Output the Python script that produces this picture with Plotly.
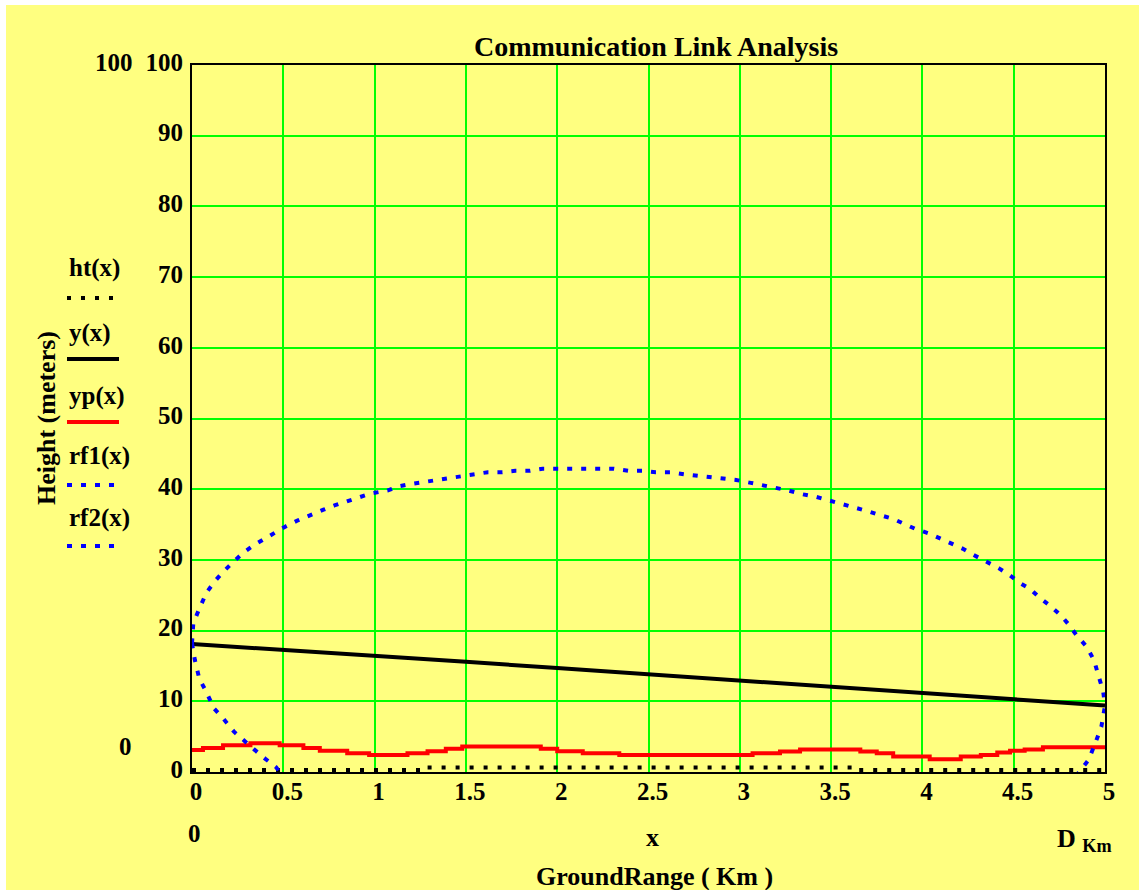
import plotly.graph_objects as go

# ---------------- data ----------------
x_ticks = [0, 0.5, 1, 1.5, 2, 2.5, 3, 3.5, 4, 4.5, 5]
y_ticks = [0, 10, 20, 30, 40, 50, 60, 70, 80, 90, 100]

ht_x = [0, 1.28, 3.64, 5.0]
ht_y = [0.28, 0.62, 0.28, 0.28]

y_x = [0, 0.5, 1, 1.5, 2, 2.5, 3, 3.5, 4, 4.5, 5]
y_y = [18.1, 17.3, 16.4, 15.6, 14.7, 13.8, 12.9, 12.0, 11.1, 10.2, 9.4]

yp_x = [0, 0.06, 0.17, 0.32, 0.48, 0.61, 0.70, 0.85, 0.97, 1.18, 1.29, 1.39, 1.48,
        1.70, 1.91, 2.0, 2.14, 2.34, 3.07, 3.22, 3.33, 3.66, 3.75, 3.84, 4.04, 4.21,
        4.32, 4.41, 4.48, 4.56, 4.66, 5.0]
yp_y = [3.1, 3.4, 3.8, 4.05, 3.8, 3.4, 3.0, 2.65, 2.4, 2.65, 2.95, 3.3, 3.6,
        3.6, 3.3, 2.95, 2.65, 2.4, 2.65, 2.9, 3.2, 2.9, 2.65, 2.2, 1.8, 2.2,
        2.4, 2.75, 3.0, 3.2, 3.5, 3.5]

rf1_x = [0, 0.007, 0.04, 0.08, 0.126, 0.17, 0.23, 0.28, 0.34, 0.40, 0.46, 0.51, 0.58,
         0.65, 0.72, 0.78, 0.84, 0.91, 0.98, 1.07, 1.13, 1.19, 1.27, 1.33, 1.40, 1.48,
         1.55, 1.62, 1.70, 1.77, 1.85, 1.92, 2.0, 2.08, 2.16, 2.23, 2.31, 2.39, 2.47,
         2.54, 2.62, 2.70, 2.77, 2.84, 2.91, 2.98, 3.06, 3.12, 3.19, 3.27, 3.34, 3.42,
         3.49, 3.56, 3.63, 3.70, 3.76, 3.84, 3.90, 3.96, 4.04, 4.10, 4.16, 4.22, 4.28,
         4.36, 4.42, 4.48, 4.53, 4.59, 4.64, 4.70, 4.76, 4.80, 4.84, 4.90, 4.94, 4.96,
         4.99, 5.0]
rf1_y = [18.2, 21.0, 23.1, 25.4, 27.0, 28.3, 29.8, 31.0, 32.1, 33.0, 34.0, 34.7, 35.6,
         36.4, 37.1, 37.7, 38.2, 38.8, 39.4, 39.8, 40.4, 40.7, 41.0, 41.2, 41.5, 41.8,
         42.1, 42.4, 42.4, 42.6, 42.6, 42.9, 42.9, 42.9, 42.9, 42.9, 42.9, 42.6, 42.6,
         42.4, 42.4, 42.1, 41.9, 41.7, 41.5, 41.3, 40.9, 40.6, 40.2, 39.8, 39.3, 38.9,
         38.4, 37.9, 37.5, 36.9, 36.4, 35.8, 35.1, 34.4, 33.7, 33.0, 32.3, 31.6, 30.7,
         29.7, 28.8, 27.8, 26.8, 25.9, 24.7, 23.5, 22.1, 20.9, 19.5, 17.7, 15.8, 14.0,
         11.4, 9.4]

rf2_x = [0, 0.016, 0.04, 0.077, 0.12, 0.17, 0.23, 0.28, 0.34, 0.40, 0.46, 0.48, 0.50,
         None, 4.84, 4.86, 4.91, 4.95, 4.98, 5.0]
rf2_y = [18.2, 15.8, 13.2, 11.4, 9.0, 7.6, 5.7, 4.5, 3.2, 1.9, 0.7, 0.0, -0.6,
         None, -0.6, 0.0, 1.7, 4.3, 6.4, 9.4]

legend_names = ["ht(x)", "y(x)", "yp(x)", "rf1(x)", "rf2(x)"]

# ---------------- styling ----------------
W, H = 1139, 890
L, R, T, B = 192, 1105, 65, 772
BG = "#FFFF80"
GREEN = "#00FF00"
FONT = "Liberation Serif"
BLUE = "#0000FF"
RED = "#FF0000"

def X(px):
    return (px - L) / (R - L)

def Y(py):
    return (B - py) / (B - T)

fig = go.Figure()
fig.add_trace(go.Scatter(x=ht_x, y=ht_y, mode="lines", line_shape="hv",
                         line=dict(color="black", width=4, dash="4px,10px")))
fig.add_trace(go.Scatter(x=y_x, y=y_y, mode="lines",
                         line=dict(color="black", width=4)))
fig.add_trace(go.Scatter(x=yp_x, y=yp_y, mode="lines", line_shape="hv",
                         line=dict(color=RED, width=4)))
fig.add_trace(go.Scatter(x=rf1_x, y=rf1_y, mode="lines",
                         line=dict(color=BLUE, width=4, dash="5px,9px")))
fig.add_trace(go.Scatter(x=rf2_x, y=rf2_y, mode="lines", connectgaps=False,
                         line=dict(color=BLUE, width=4, dash="5px,9px")))

ann = []
def text(px, py, s, size=26, xanchor="center", angle=0):
    ann.append(dict(x=X(px), y=Y(py), xref="paper", yref="paper", text=s,
                    showarrow=False, xanchor=xanchor, yanchor="middle",
                    textangle=angle,
                    font=dict(family=FONT, size=size, color="black", weight="bold")))

text(656, 46, "Communication Link Analysis", size=28)
text(114, 63, "100", size=25)
text(125, 746, "0", size=25)
text(194, 834, "0", size=25)
text(652, 838, "x", size=26)
text(654, 876, "GroundRange ( Km )", size=26)
text(1055, 840, "D <sub>Km</sub>", size=26, xanchor="left")
text(46, 418, "Height (meters)", size=26, angle=-90)

legend_text_y = [268, 333, 396, 456, 518]
legend_line_y = [298, 359, 422, 485, 546]
legend_style = [("black", "4px,10px"), ("black", "solid"), (RED, "solid"),
                (BLUE, "5px,9px"), (BLUE, "5px,9px")]
shapes = [
    dict(type="rect", xref="paper", yref="paper", x0=X(0), x1=X(W), y0=Y(0), y1=Y(5),
         fillcolor="white", line=dict(width=0), layer="above"),
    dict(type="rect", xref="paper", yref="paper", x0=X(0), x1=X(6), y0=Y(0), y1=Y(H),
         fillcolor="white", line=dict(width=0), layer="above"),
]
for name, ty, ly, (col, dash) in zip(legend_names, legend_text_y, legend_line_y, legend_style):
    text(67, ty, name, size=25, xanchor="left")
    shapes.append(dict(type="line", xref="paper", yref="paper",
                       x0=X(67), x1=X(119), y0=Y(ly), y1=Y(ly),
                       line=dict(color=col, width=4, dash=dash)))

tickfont = dict(family=FONT, size=25, color="black", weight="bold")
fig.update_layout(
    width=W, height=H,
    margin=dict(l=L, r=W - R, t=T, b=H - B, pad=0),
    paper_bgcolor=BG, plot_bgcolor=BG,
    showlegend=False,
    annotations=ann, shapes=shapes,
    xaxis=dict(range=[0, 5], tickvals=x_ticks, ticktext=[f"{v:g}" for v in x_ticks],
               showgrid=True, gridcolor=GREEN, gridwidth=2, zeroline=False,
               showline=True, linecolor="black", linewidth=2, mirror=True,
               ticks="", tickfont=tickfont, ticklabelstandoff=-4, ticklabelshift=4),
    yaxis=dict(range=[0, 100], tickvals=y_ticks, ticktext=[str(v) for v in y_ticks],
               showgrid=True, gridcolor=GREEN, gridwidth=2, zeroline=False,
               showline=True, linecolor="black", linewidth=2, mirror=True,
               ticks="", tickfont=tickfont, ticklabelstandoff=2, ticklabelshift=-3),
)

fig.write_html("out.html")
